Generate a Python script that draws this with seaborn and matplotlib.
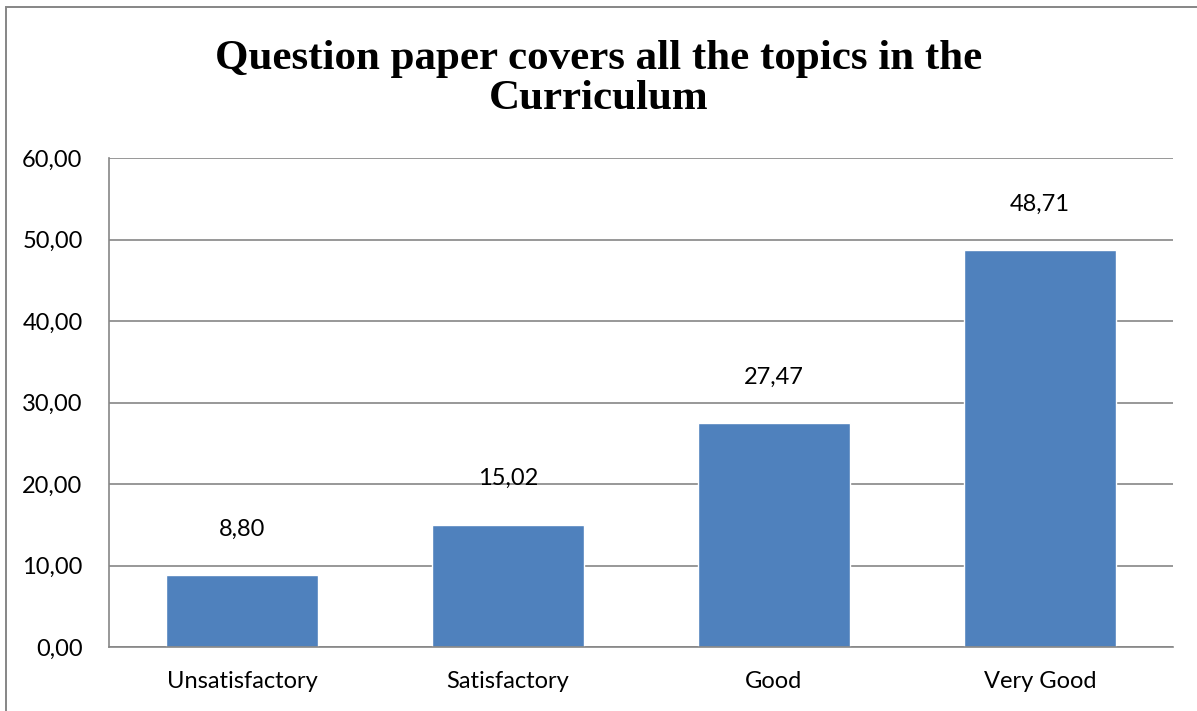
import matplotlib
matplotlib.use("Agg")
import matplotlib.pyplot as plt
import seaborn as sns
import pandas as pd
from matplotlib.patches import Rectangle

categories = ["Unsatisfactory", "Satisfactory", "Good", "Very Good"]
values = [8.80, 15.02, 27.47, 48.71]
yticks = [0, 10, 20, 30, 40, 50, 60]

df = pd.DataFrame({"category": categories, "value": values})

sns.set_style("white")
plt.rcParams['font.family'] = ['Lato', 'DejaVu Sans']
plt.rcParams['text.color'] = 'black'
plt.rcParams['xtick.color'] = 'black'
plt.rcParams['ytick.color'] = 'black'

fig = plt.figure(figsize=(11.97, 7.11), dpi=100)
ax = fig.add_axes([109 / 1197, 1 - 647 / 711, (1173 - 109) / 1197, (647 - 158) / 711])

sns.barplot(data=df, x="category", y="value", color="#4F81BD", saturation=1,
            width=0.57, ax=ax)

ax.set_ylim(0, 60)
ax.set_yticks(yticks)
ax.set_yticklabels(["{:.2f}".format(t).replace(".", ",") for t in yticks], fontsize=17)
ax.tick_params(axis="x", labelsize=17, length=0, pad=17)
ax.tick_params(axis="y", length=0, pad=19)
ax.set_xlabel("")
ax.set_ylabel("")
ax.yaxis.grid(True, color="#868686", linewidth=1.2)
ax.set_axisbelow(True)
for s in ["top", "right"]:
    ax.spines[s].set_visible(False)
for s in ["left", "bottom"]:
    ax.spines[s].set_color("#868686")
    ax.spines[s].set_linewidth(1.2)

for i, v in enumerate(values):
    ax.annotate("{:.2f}".format(v).replace(".", ","), (i, v), xytext=(0, 33),
                textcoords="offset points", ha="center", va="center", fontsize=17)

fig.text(0.5, 1 - 79 / 711, "Question paper covers all the topics in the\nCurriculum",
         ha="center", va="center", fontsize=31, fontweight="bold",
         family=["Liberation Serif"], linespacing=1.05)

# chart frame: only the left and top edges fall inside the picture
fig.patches.append(Rectangle((6 / 1197, -0.1), 1.2, 1 - 7 / 711 + 0.1,
                             transform=fig.transFigure, fill=False,
                             edgecolor="#868686", linewidth=1.4))

fig.savefig("out.png", dpi=100)
